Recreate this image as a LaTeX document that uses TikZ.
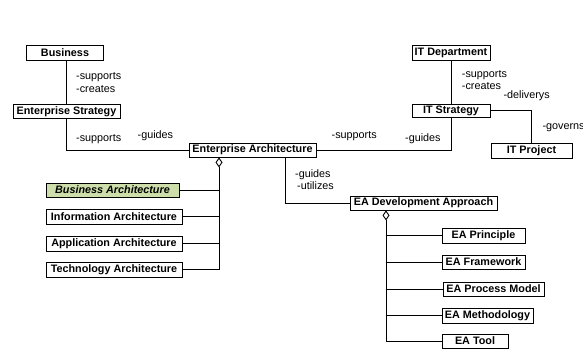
\documentclass[tikz,border=0pt]{standalone}
\usepackage{fontspec}
\setmainfont{Liberation Sans}
\usetikzlibrary{arrows.meta,shadows}
\definecolor{bagreen}{RGB}{205,222,170}
\begin{document}
\begin{tikzpicture}[x=1pt,y=-1pt,
  box/.style={draw, line width=0.8pt, fill=white, inner sep=0pt,
    font=\fontsize{10.8}{12.4}\selectfont\bfseries,
    drop shadow={shadow xshift=0.9pt, shadow yshift=-0.9pt, fill=black!60, opacity=1}},
  lbl/.style={anchor=base west, inner sep=0pt, font=\fontsize{10.8}{12.4}\selectfont},
  conn/.style={line width=0.9pt},
  agg/.style={line width=0.9pt, {Diamond[open, length=10pt, width=7pt, line width=0.9pt]}-}]
\useasboundingbox (0,0) rectangle (583,350);

% upper chain: business side
\node[box, minimum width=77pt, minimum height=15pt] (biz) at (65,52.5) {Business};
\node[box, minimum width=107pt, minimum height=14pt] (es) at (66.5,111.5) {Enterprise Strategy};
\node[box, minimum width=127pt, minimum height=14pt] (ea) at (252.5,150) {Enterprise Architecture};

% upper chain: IT side
\node[box, minimum width=78pt, minimum height=15pt] (itd) at (451,52.5) {IT Department};
\node[box, minimum width=78pt, minimum height=13pt] (its) at (451,110.5) {IT Strategy};
\node[box, minimum width=81pt, minimum height=15pt] (itp) at (531.5,150.5) {IT Project};

% architecture parts
\node[box, fill=bagreen, minimum width=133pt, minimum height=14pt, font=\fontsize{10.8}{12.4}\selectfont\bfseries\itshape] (ba) at (112.5,190) {Business Architecture};
\node[box, minimum width=136pt, minimum height=15pt] (ia) at (114,216.5) {Information Architecture};
\node[box, minimum width=136pt, minimum height=15pt] (aa) at (114,243.5) {Application Architecture};
\node[box, minimum width=136pt, minimum height=15pt] (ta) at (114,269.5) {Technology Architecture};

% development approach and its parts
\node[box, minimum width=147pt, minimum height=14pt] (ead) at (423.5,203) {EA Development Approach};
\node[box, minimum width=83pt, minimum height=15pt] (p1) at (483.5,235.5) {EA Principle};
\node[box, minimum width=83pt, minimum height=14pt] (p2) at (483.5,262) {EA Framework};
\node[box, minimum width=101pt, minimum height=14pt] (p3) at (493.5,289) {EA Process Model};
\node[box, minimum width=91pt, minimum height=15pt] (p4) at (487.5,315.5) {EA Methodology};
\node[box, minimum width=66pt, minimum height=14pt] (p5) at (475,341) {EA Tool};

% associations
\draw[conn] (biz.south -| es.north) -- (es.north);
\draw[conn] (es.south) |- (ea.west);
\draw[conn] (itd.south) -- (its.north);
\draw[conn] (its.south) |- (ea.east);
\draw[conn] (its.east) -| (itp.north);
\draw[conn] ([xshift=32.5pt]ea.south) |- (ead.west);

% aggregation of architecture parts
\coordinate (eagg) at ([xshift=-33.5pt]ea.south);
\draw[agg] (eagg) -- (eagg |- ta.east);
\foreach \n in {ba,ia,aa,ta} \draw[conn] (\n.east) -- (\n.east -| eagg);

% aggregation of approach parts
\coordinate (dagg) at ([xshift=-37.5pt]ead.south);
\draw[agg] (dagg) -- (dagg |- p5.west);
\foreach \n in {p1,p2,p3,p4,p5} \draw[conn] (\n.west) -- (\n.west -| dagg);

% role labels
\node[lbl] (l1) at (76,80) {-supports};
\node[lbl] (l2) at (76,92.3) {-creates};
\node[lbl] (l3) at (76,141) {-supports};
\node[lbl] (l4) at (137.5,138.3) {-guides};
\node[lbl] (l5) at (331.5,138) {-supports};
\node[lbl] (l6) at (405,142) {-guides};
\node[lbl] (l7) at (461.7,78) {-supports};
\node[lbl] (l8) at (461.7,90) {-creates};
\node[lbl] (l9) at (503.3,99) {-deliverys};
\node[lbl] (l10) at (542.3,129) {-governs};
\node[lbl] (l11) at (295,177) {-guides};
\node[lbl] (l12) at (297,189) {-utilizes};
\end{tikzpicture}
\end{document}
